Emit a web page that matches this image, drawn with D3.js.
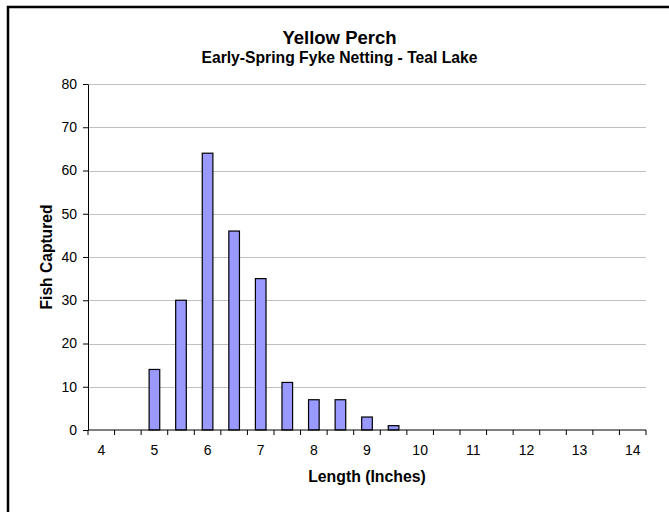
<!DOCTYPE html>
<html>
<head>
<meta charset="utf-8">
<script src="https://cdn.jsdelivr.net/npm/d3@7"></script>
<style>
  body { margin: 0; background: #fff; }
  svg { display: block; font-family: "Liberation Sans", Arial, sans-serif; }
  .axis path, .axis line { stroke: #000; }
  .axis text { font-size: 14px; fill: #000; }
  .grid line { stroke: #c0c0c0; }
  .bar { fill: #9999ff; stroke: #000; stroke-width: 1.2; }
</style>
</head>
<body>
<svg id="chart" width="669" height="512"></svg>
<script>
// length classes, half inch steps
var lengths = ["4", "4.5", "5", "5.5", "6", "6.5", "7", "7.5", "8", "8.5", "9", "9.5",
    "10", "10.5", "11", "11.5", "12", "12.5", "13", "13.5", "14"];
var fishCaptured = [0, 0, 14, 30, 64, 46, 35, 11, 7, 7, 3, 1,
    0, 0, 0, 0, 0, 0, 0, 0, 0];
var yTicks = [0, 10, 20, 30, 40, 50, 60, 70, 80];

var svg = d3.select("#chart");
var margin = {top: 84, left: 88, right: 23, bottom: 82};
var width = 669 - margin.left - margin.right;
var height = 512 - margin.top - margin.bottom;

var data = lengths.map(function(d, i) { return {len: d, n: fishCaptured[i]}; });

// outer frame, runs off the right and bottom edge
svg.append("rect")
    .attr("x", 8).attr("y", 7)
    .attr("width", 700).attr("height", 600)
    .attr("fill", "none")
    .attr("stroke", "#000")
    .attr("stroke-width", 2.5);

var x = d3.scaleBand().domain(lengths).range([0, width]).paddingInner(0).paddingOuter(0);
var y = d3.scaleLinear().domain([0, 80]).range([height, 0]);

var g = svg.append("g")
    .attr("transform", "translate(" + margin.left + "," + margin.top + ")");

g.append("g")
    .attr("class", "grid")
    .selectAll("line")
    .data(yTicks.filter(function(d) { return d > 0; }))
    .enter().append("line")
    .attr("x1", 0).attr("x2", width)
    .attr("y1", function(d) { return Math.round(y(d)) + 0.5; })
    .attr("y2", function(d) { return Math.round(y(d)) + 0.5; });

var bw = x.bandwidth() / 2.5;
g.append("g")
    .selectAll(".bar")
    .data(data.filter(function(d) { return d.n > 0; }))
    .enter().append("rect")
    .attr("class", "bar")
    .attr("x", function(d) { return x(d.len) + (x.bandwidth() - bw) / 2; })
    .attr("y", function(d) { return y(d.n); })
    .attr("width", bw)
    .attr("height", function(d) { return height - y(d.n); });

g.append("g")
    .attr("class", "axis axis-y")
    .call(d3.axisLeft(y).tickValues(yTicks).tickSize(5).tickSizeOuter(0).tickPadding(6));

// ticks sit on band edges, labels only on whole inches
var xAxis = g.append("g")
    .attr("class", "axis axis-x")
    .attr("transform", "translate(0," + height + ")");

xAxis.append("line")
    .attr("x1", 0).attr("x2", width)
    .attr("y1", 0).attr("y2", 0);

xAxis.selectAll(".edge")
    .data(lengths.concat(["end"]))
    .enter().append("line")
    .attr("class", "edge")
    .attr("x1", function(d, i) { return i < lengths.length ? x(d) : width; })
    .attr("x2", function(d, i) { return i < lengths.length ? x(d) : width; })
    .attr("y1", 0).attr("y2", 5);

xAxis.selectAll("text")
    .data(lengths.filter(function(d) { return d.indexOf(".") < 0; }))
    .enter().append("text")
    .attr("x", function(d) { return x(d) + x.bandwidth() / 2; })
    .attr("y", 25)
    .attr("text-anchor", "middle")
    .text(function(d) { return d; });

svg.append("text")
    .attr("x", margin.left + width / 2)
    .attr("y", 482)
    .attr("text-anchor", "middle")
    .style("font-size", "15.8px")
    .style("font-weight", "bold")
    .text("Length (Inches)");

svg.append("text")
    .attr("transform", "translate(52," + (margin.top + height / 2) + ") rotate(-90)")
    .attr("text-anchor", "middle")
    .style("font-size", "15.6px")
    .style("font-weight", "bold")
    .text("Fish Captured");

svg.append("text")
    .attr("x", 339.5)
    .attr("y", 44)
    .attr("text-anchor", "middle")
    .style("font-size", "18.5px")
    .style("font-weight", "bold")
    .text("Yellow Perch");

svg.append("text")
    .attr("x", 339.5)
    .attr("y", 63)
    .attr("text-anchor", "middle")
    .style("font-size", "15.7px")
    .style("font-weight", "bold")
    .text("Early-Spring Fyke Netting - Teal Lake");
</script>
</body>
</html>
